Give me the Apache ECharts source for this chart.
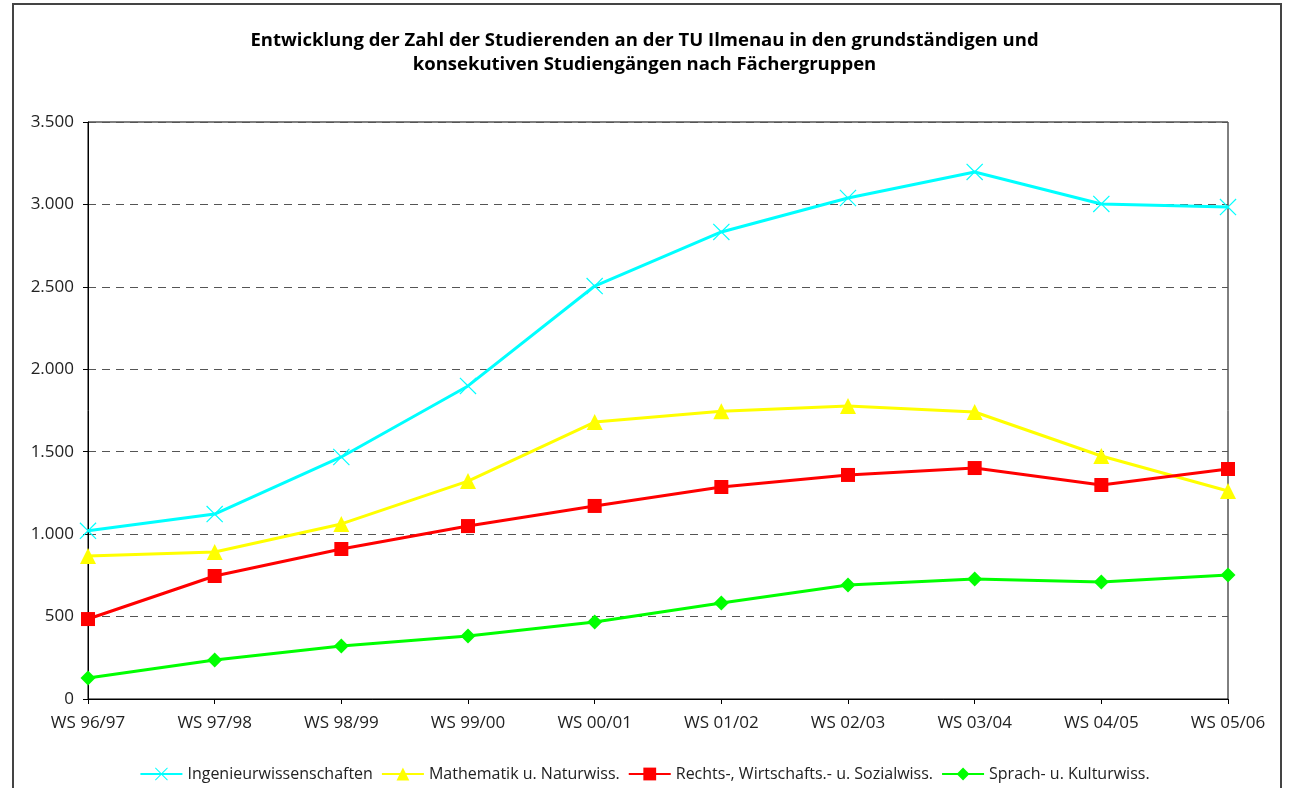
<!DOCTYPE html>
<html><head><meta charset="utf-8">
<script src="https://cdn.jsdelivr.net/npm/echarts@6/dist/echarts.min.js"></script>
<style>html,body{margin:0;padding:0;background:#fff}#c{width:1289px;height:788px}</style>
</head><body><div id="c"></div>
<script>
const categories = ['WS 96/97','WS 97/98','WS 98/99','WS 99/00','WS 00/01','WS 01/02','WS 02/03','WS 03/04','WS 04/05','WS 05/06'];
const ingenieur = [1020, 1122, 1468, 1899, 2505, 2833, 3039, 3197, 3003, 2984];
const mathematik = [867, 892, 1062, 1322, 1680, 1745, 1777, 1741, 1474, 1262];
const rechts = [485, 746, 910, 1049, 1171, 1286, 1359, 1401, 1298, 1395];
const sprach = [127, 237, 321, 382, 467, 582, 692, 728, 710, 752];
const seriesNames = ['Ingenieurwissenschaften','Mathematik u. Naturwiss.','Rechts-, Wirtschafts.- u. Sozialwiss.','Sprach- u. Kulturwiss.'];

const font = 'Open Sans';
const crossPath = 'path://M0,1L1,0L10,9L19,0L20,1L11,10L20,19L19,20L10,11L1,20L0,19L9,10Z';
const chart = echarts.init(document.getElementById('c'));
function fmt(v){ return String(v).replace(/\B(?=(\d{3})+(?!\d))/g, '.'); }
chart.setOption({
  animation:false,
  backgroundColor:'#fff',
  title:{
    text:'Entwicklung der Zahl der Studierenden an der TU Ilmenau in den grundständigen und\nkonsekutiven Studiengängen nach Fächergruppen',
    left:'center', top:24,
    textStyle:{fontFamily:font,fontWeight:'bold',fontSize:18.5,lineHeight:24,color:'#000'}
  },
  graphic:[{type:'rect',shape:{x:13,y:4,width:1268,height:800},style:{fill:'none',stroke:'#444',lineWidth:2},silent:true}],
  legend:{
    bottom:1, left:'center', itemWidth:42, itemHeight:16, itemGap:8,
    textStyle:{fontFamily:font,fontSize:16,color:'#222'},
    data:seriesNames
  },
  grid:{left:88,right:61,top:122,bottom:89,show:true,borderColor:'#000',borderWidth:1,containLabel:false},
  xAxis:{
    type:'category', data:categories, boundaryGap:false,
    axisLine:{lineStyle:{color:'#000',width:1}},
    axisTick:{show:true,alignWithLabel:true,length:5,lineStyle:{color:'#000'}},
    axisLabel:{fontFamily:font,fontSize:17,color:'#222',margin:16,interval:0}
  },
  yAxis:{
    type:'value', min:0, max:3500, interval:500,
    axisLine:{show:true,lineStyle:{color:'#000',width:1}},
    axisTick:{show:true,length:5,lineStyle:{color:'#000'}},
    axisLabel:{fontFamily:font,fontSize:17,color:'#222',margin:14,formatter:fmt},
    splitLine:{show:true,lineStyle:{color:'#555',type:[8,6],width:1}}
  },
  series:[
    {name:seriesNames[0],type:'line',data:ingenieur,symbol:crossPath,symbolSize:17,
     lineStyle:{color:'#00FFFF',width:3},itemStyle:{color:'#00FFFF'}},
    {name:seriesNames[1],type:'line',data:mathematik,symbol:'triangle',symbolSize:16,
     lineStyle:{color:'#FFFF00',width:3},itemStyle:{color:'#FFFF00'}},
    {name:seriesNames[2],type:'line',data:rechts,symbol:'rect',symbolSize:14,
     lineStyle:{color:'#FF0000',width:3},itemStyle:{color:'#FF0000'}},
    {name:seriesNames[3],type:'line',data:sprach,symbol:'diamond',symbolSize:15,
     lineStyle:{color:'#00FF00',width:3},itemStyle:{color:'#00FF00'}}
  ]
});
</script></body></html>
